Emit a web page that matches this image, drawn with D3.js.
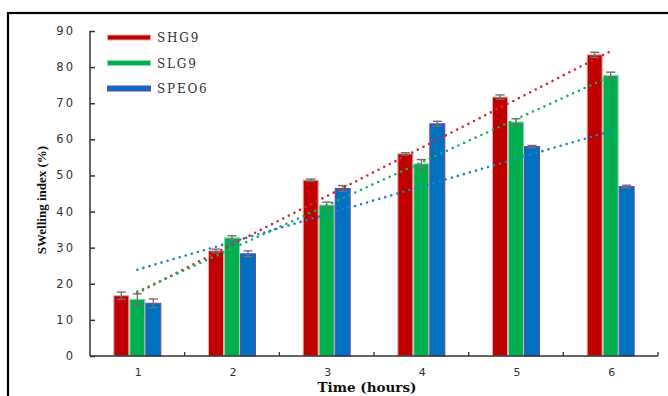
<!DOCTYPE html>
<html><head><meta charset="utf-8">
<script src="https://cdn.jsdelivr.net/npm/d3@7"></script>
<style>body{margin:0;background:#fff}svg{display:block}</style>
</head><body>
<svg id="c" width="668" height="396"></svg>
<script>
const categories = ["1","2","3","4","5","6"];
const seriesNames = ["SHG9","SLG9","SPEO6"];
const shg9 = [16.7, 29.1, 48.7, 56.0, 71.7, 83.4];
const slg9 = [15.7, 32.7, 41.8, 53.2, 64.8, 77.7];
const speo6 = [14.6, 28.3, 46.4, 64.3, 58.0, 46.9];
const shg9Err = [1.0, 0.5, 0.3, 0.3, 0.6, 0.7];
const slg9Err = [1.5, 0.6, 0.8, 1.2, 0.9, 0.9];
const speo6Err = [1.2, 0.8, 0.8, 0.7, 0.3, 0.4];
const yTicks = [0,10,20,30,40,50,60,70,80,90];

const barColors = ["#c00000","#00b050","#0070c0"];
const barStrokes = ["#e9a9a9","#8fd9a9","#7a3fb0"];
const trendColors = ["#d8262a","#14b35a","#1f7fd0"];

const series = [shg9, slg9, speo6];
const errs = [shg9Err, slg9Err, speo6Err];

const svg = d3.select("#c");
// frame
svg.append("rect").attr("x",8).attr("y",13).attr("width",720).attr("height",420)
  .attr("fill","none").attr("stroke","#000").attr("stroke-width",2.2);

const x = d3.scaleBand().domain(categories).range([90,658]).padding(0);
const y = d3.scaleLinear().domain([0,90]).range([356,31]);
const groupW = 48;
const xs = d3.scaleBand().domain(seriesNames).range([0,groupW]).padding(0);
const off = (x.bandwidth()-groupW)/2;

// bars
series.forEach((vals,si)=>{
  const g = svg.append("g");
  g.selectAll("rect").data(vals).join("rect")
    .attr("x",(d,i)=>x(categories[i])+off+xs(seriesNames[si])+0.5)
    .attr("y",d=>y(d))
    .attr("width",xs.bandwidth()-1)
    .attr("height",d=>y(0)-y(d))
    .attr("fill",barColors[si])
    .attr("stroke",barStrokes[si]).attr("stroke-width",1);
});
// error bars
series.forEach((vals,si)=>{
  const g = svg.append("g").attr("stroke","#707070").attr("stroke-width",1.4);
  vals.forEach((v,i)=>{
    const cx = x(categories[i])+off+xs(seriesNames[si])+xs.bandwidth()/2;
    const e = errs[si][i];
    g.append("line").attr("x1",cx).attr("x2",cx).attr("y1",y(v+e)).attr("y2",y(v-e));
    g.append("line").attr("x1",cx-4.5).attr("x2",cx+4.5).attr("y1",y(v+e)).attr("y2",y(v+e));
    g.append("line").attr("x1",cx-4.5).attr("x2",cx+4.5).attr("y1",y(v-e)).attr("y2",y(v-e));
  });
});
// linear trendlines
series.forEach((vals,si)=>{
  const n = vals.length;
  const xsv = vals.map((d,i)=>i+1);
  const mx = d3.mean(xsv), my = d3.mean(vals);
  const slope = d3.sum(vals.map((d,i)=>(xsv[i]-mx)*(d-my)))/d3.sum(xsv.map(v=>(v-mx)*(v-mx)));
  const b = my - slope*mx;
  const cx = i=>x(categories[i])+x.bandwidth()/2;
  svg.append("line")
    .attr("x1",cx(0)).attr("y1",y(slope*1+b))
    .attr("x2",cx(n-1)).attr("y2",y(slope*n+b))
    .attr("stroke",trendColors[si]).attr("stroke-width",2.6)
    .attr("stroke-linecap","round").attr("stroke-dasharray","0 6.3");
});

// axes
const axisColor = "#333";
const yAxis = svg.append("g").attr("transform","translate(90,0)")
  .call(d3.axisRight(y).tickValues(yTicks).tickSize(5).tickFormat(""));
yAxis.select(".domain").attr("d","M0,"+y(90)+"V"+y(0));
yAxis.selectAll("path,line").attr("stroke",axisColor).attr("stroke-width",1.5);
svg.append("g").selectAll("text").data(yTicks).join("text")
  .attr("x",75).attr("y",d=>y(d)+4).attr("text-anchor","end")
  .attr("font-family","DejaVu Sans").attr("font-size",11.5).attr("letter-spacing",2)
  .attr("fill","#333").text(d=>d);

const xAxis = svg.append("g").attr("transform","translate(0,356)")
  .call(d3.axisTop(x).tickSize(0).tickFormat(""));
xAxis.select(".domain").attr("d","M90,0H658");
xAxis.selectAll("path").attr("stroke",axisColor).attr("stroke-width",1.5);
// boundary ticks
const bounds = categories.map(c=>x(c)+x.bandwidth());
svg.append("g").selectAll("line").data(bounds).join("line")
  .attr("x1",d=>d).attr("x2",d=>d).attr("y1",356).attr("y2",352)
  .attr("stroke",axisColor).attr("stroke-width",1.3);
svg.append("g").selectAll("text").data(categories).join("text")
  .attr("x",d=>x(d)+x.bandwidth()/2+1).attr("y",376).attr("text-anchor","middle")
  .attr("font-family","DejaVu Sans").attr("font-size",11)
  .attr("fill","#333").text(d=>d);

// titles
svg.append("text").attr("x",367).attr("y",392).attr("text-anchor","middle")
  .attr("font-family","DejaVu Serif").attr("font-weight","bold").attr("font-size",13.5)
  .attr("fill","#111").text("Time (hours)");
svg.append("text").attr("transform","translate(46,200) rotate(-90)").attr("text-anchor","middle")
  .attr("font-family","Liberation Serif").attr("font-weight","bold").attr("font-size",13)
  .attr("fill","#111").text("SWelling index (%)");

// legend
const legY = [37.5, 63, 88.5];
seriesNames.forEach((nm,si)=>{
  svg.append("rect").attr("x",107.5).attr("y",legY[si]-2.5).attr("width",43).attr("height",5)
    .attr("fill",barColors[si]).attr("stroke",barStrokes[si]).attr("stroke-width",1);
  svg.append("text").attr("x",157).attr("y",legY[si]+4.5)
    .attr("font-family","DejaVu Serif").attr("font-size",12).attr("letter-spacing",1.8)
    .attr("fill","#333").text(nm);
});
</script>
</body></html>
